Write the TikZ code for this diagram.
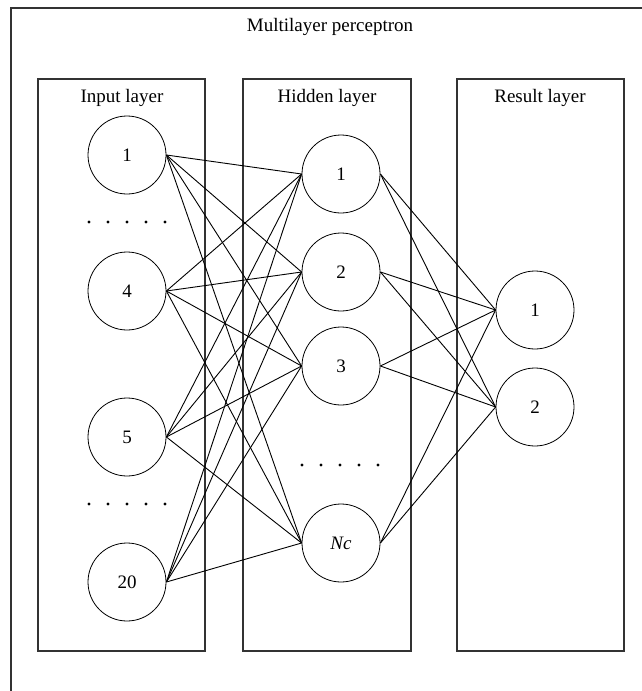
\documentclass[tikz,border=0pt]{standalone}
\usepackage{fontspec}
\setmainfont{Liberation Serif}
\begin{document}
\begin{tikzpicture}[x=1pt,y=-1pt,
  layerbox/.style={draw=black!80,line width=1.2pt},
  neuron/.style={circle,draw,line width=0.8pt,minimum size=78pt,inner sep=0pt,font=\fontsize{19}{21}\selectfont},
  lbl/.style={font=\fontsize{19}{21}\selectfont},
  conn/.style={line width=0.9pt},
  dotmark/.style={circle,fill=black,inner sep=0pt,minimum size=3.2pt}]
\useasboundingbox (0,0) rectangle (642,691);
\begin{scope}
\clip (0,0) rectangle (642,691);
\draw[layerbox] (11,8) rectangle (660,710);
\end{scope}
\node[lbl] (title) at (330,27) {Multilayer perceptron};
\draw[layerbox] (38,79) rectangle (205,651);
\draw[layerbox] (243,79) rectangle (411,651);
\draw[layerbox] (457,79) rectangle (624,651);
\node[lbl] (lin) at (122,98) {Input layer};
\node[lbl] (lhid) at (327,98) {Hidden layer};
\node[lbl] (lres) at (540,98) {Result layer};
% input neurons
\node[neuron] (i1) at (127,155) {1};
\node[neuron] (i4) at (127,291) {4};
\node[neuron] (i5) at (127,437) {5};
\node[neuron] (i20) at (127,582) {20};
% hidden neurons
\node[neuron] (h1) at (341,174) {1};
\node[neuron] (h2) at (341,272) {2};
\node[neuron] (h3) at (341,366) {3};
\node[neuron] (hn) at (341,543) {\textit{Nc}};
% result neurons
\node[neuron] (r1) at (535,310) {1};
\node[neuron] (r2) at (535,407) {2};
% dots
\foreach \x [count=\k] in {89,108,127,146,165}{
  \node[dotmark] (da\k) at (\x,222) {};
  \node[dotmark] (db\k) at (\x,504) {};
}
\foreach \x [count=\k] in {302,321,340,359,378}{
  \node[dotmark] (dc\k) at (\x,465) {};
}
% connections
\foreach \a in {i1,i4,i5,i20}{
  \foreach \b in {h1,h2,h3,hn}{
    \draw[conn] (\a.east) -- (\b.west);
  }
}
\foreach \a in {h1,h2,h3,hn}{
  \foreach \b in {r1,r2}{
    \draw[conn] (\a.east) -- (\b.west);
  }
}
\end{tikzpicture}
\end{document}
